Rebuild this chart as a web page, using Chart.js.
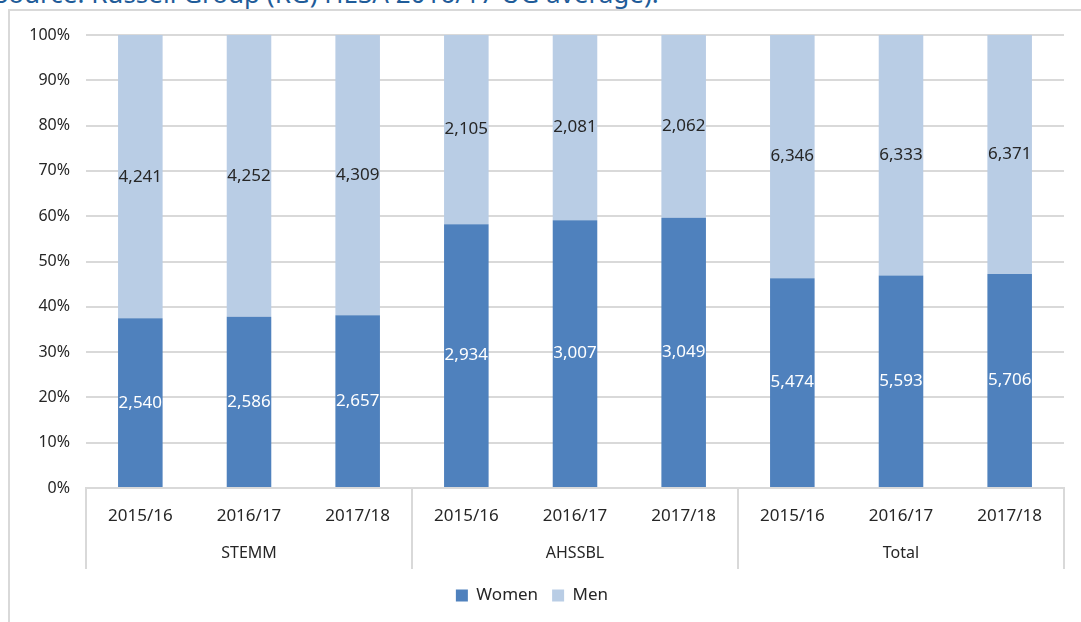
<!DOCTYPE html>
<html>
<head>
<meta charset="utf-8">
<script src="https://cdn.jsdelivr.net/npm/chart.js@4"></script>
<style>
  body { margin: 0; background: #fff; overflow: hidden; }
  #title { position: absolute; left: -6px; top: -25px; font: 26px "Noto Sans", sans-serif; color: #1f5c99; white-space: nowrap; }
  #frame { position: absolute; left: 8px; top: 9px; width: 1120px; height: 640px; border: 2px solid #d9d9d9; }
  #wrap { position: absolute; left: 0; top: 0; width: 1081px; height: 622px; }
</style>
</head>
<body>
<div id="title">Source: Russell Group (RG) HESA 2016/17 UG average).</div>
<div id="frame"></div>
<div id="wrap"><canvas id="chart"></canvas></div>
<script>
const years = ['2015/16', '2016/17', '2017/18', '2015/16', '2016/17', '2017/18', '2015/16', '2016/17', '2017/18'];
const groups = ['STEMM', 'AHSSBL', 'Total'];
const women = [2540, 2586, 2657, 2934, 3007, 3049, 5474, 5593, 5706];
const men = [4241, 4252, 4309, 2105, 2081, 2062, 6346, 6333, 6371];

// shares of each bar, so every bar reaches 100%
const womenPct = women.map((w, i) => w / (w + men[i]) * 100);
const menPct = men.map((m, i) => m / (women[i] + m) * 100);
const counts = [women, men];

const font = '"Noto Sans", sans-serif';
const gridColor = '#d9d9d9';

// value labels in each segment + group labels and separators under the axis
const extras = {
  id: 'extras',
  afterDatasetsDraw(chart) {
    const ctx = chart.ctx;
    ctx.save();
    ctx.font = '17px ' + font;
    ctx.textAlign = 'center';
    ctx.textBaseline = 'middle';
    chart.data.datasets.forEach((ds, d) => {
      ctx.fillStyle = d === 0 ? '#ffffff' : '#262626';
      chart.getDatasetMeta(d).data.forEach((bar, i) => {
        const mid = (bar.y + bar.base) / 2;
        ctx.fillText(counts[d][i].toLocaleString('en-US'), bar.x, mid);
      });
    });

    const x = chart.scales.x;
    const top = chart.chartArea.bottom;
    const bottom = top + 81;
    const edges = [x.left];
    for (let g = 1; g < groups.length; g++) {
      edges.push((x.getPixelForValue(g * 3 - 1) + x.getPixelForValue(g * 3)) / 2);
    }
    edges.push(x.right);
    ctx.strokeStyle = gridColor;
    ctx.lineWidth = 2;
    edges.forEach(px => {
      ctx.beginPath();
      ctx.moveTo(Math.round(px), top);
      ctx.lineTo(Math.round(px), bottom);
      ctx.stroke();
    });
    ctx.fillStyle = '#262626';
    ctx.font = '16px ' + font;
    groups.forEach((g, k) => {
      ctx.fillText(g, x.getPixelForValue(k * 3 + 1), top + 65);
    });
    ctx.restore();
  }
};

new Chart(document.getElementById('chart'), {
  type: 'bar',
  data: {
    labels: years,
    datasets: [
      { label: 'Women', data: womenPct, backgroundColor: '#4f81bd' },
      { label: 'Men', data: menPct, backgroundColor: '#b9cde5' }
    ]
  },
  options: {
    responsive: true,
    maintainAspectRatio: false,
    animation: false,
    layout: { padding: { top: 35, right: 17, bottom: 8, left: 0 } },
    datasets: { bar: { barPercentage: 0.41, categoryPercentage: 1 } },
    scales: {
      x: {
        stacked: true,
        grid: { display: false },
        border: { color: gridColor, width: 2 },
        ticks: { color: '#262626', font: { family: font, size: 17 }, padding: 10, maxRotation: 0 },
        afterFit: s => { s.height = 85; }
      },
      y: {
        stacked: true,
        min: 0,
        max: 100,
        grid: { color: gridColor, lineWidth: 2, drawTicks: false },
        border: { display: false },
        ticks: { stepSize: 10, color: '#262626', font: { family: font, size: 16 }, padding: 16, callback: v => v + '%' },
        afterFit: s => { s.width = 86; }
      }
    },
    plugins: {
      tooltip: { enabled: false },
      legend: {
        position: 'bottom',
        labels: { color: '#262626', font: { family: font, size: 17 }, boxWidth: 12, boxHeight: 12, padding: 14 }
      }
    }
  },
  plugins: [extras]
});
</script>
</body>
</html>
